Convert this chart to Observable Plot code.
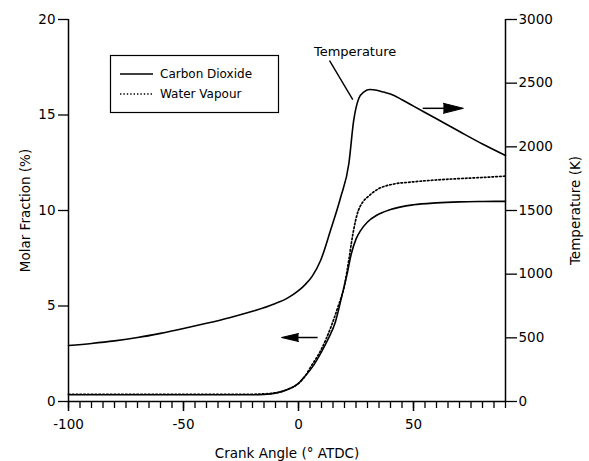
<!DOCTYPE html>
<html>
<head>
<meta charset="utf-8">
<script src="https://cdn.jsdelivr.net/npm/d3@7"></script>
<script src="https://cdn.jsdelivr.net/npm/@observablehq/plot@0.6"></script>
<style>
  html, body { margin: 0; padding: 0; background: #fff; }
  #chart svg { display: block; }
</style>
</head>
<body>
<div id="chart"></div>
<script>
// In-cylinder temperature (K) against crank angle (° ATDC)
const tempAngle = [-100, -90, -80, -70, -60, -50, -40, -30, -20, -10, -5, 0, 3, 6, 9.6, 13.9, 18.3, 21.9, 24, 26.2, 28.5, 31, 34, 37, 40, 45, 50, 60, 70, 80, 90];
const tempK     = [440, 456, 476, 502, 535, 573, 614, 658, 708, 770, 810, 870, 920, 985, 1107, 1343, 1602, 1869, 2207, 2379, 2432, 2450, 2445, 2430, 2415, 2370, 2320, 2220, 2120, 2022, 1932];

// Carbon dioxide molar fraction (%)
const co2Angle = [-100, -80, -60, -40, -20, -15, -10, -5, 0, 3, 6, 10, 13, 16, 19, 21, 23, 25, 27, 30, 34, 40, 50, 60, 70, 80, 90];
const co2Pct   = [0.35, 0.35, 0.35, 0.35, 0.35, 0.37, 0.44, 0.62, 0.95, 1.35, 1.8, 2.6, 3.3, 4.15, 5.6, 6.6, 7.75, 8.5, 8.95, 9.4, 9.75, 10.05, 10.3, 10.4, 10.45, 10.47, 10.48];

// Water vapour molar fraction (%)
const h2oAngle = [-100, -80, -60, -40, -20, -15, -10, -5, 0, 3, 5, 10, 14, 17, 20, 22, 23, 24, 25.5, 28, 30, 35, 40, 50, 60, 70, 80, 90];
const h2oPct   = [0.38, 0.38, 0.38, 0.38, 0.38, 0.4, 0.45, 0.62, 0.95, 1.35, 1.75, 2.75, 3.87, 4.9, 6.1, 7.5, 8.3, 9.0, 9.8, 10.45, 10.7, 11.15, 11.35, 11.5, 11.6, 11.67, 11.73, 11.8];

// Axis ticks
const fractionTicks = [0, 5, 10, 15, 20];
const tempTicks = [0, 500, 1000, 1500, 2000, 2500, 3000];
const angleLabels = [-100, -50, 0, 50];
const angleTicks = [-100, -95, -90, -85, -80, -75, -70, -65, -60, -55, -50, -45, -40, -35, -30, -25, -20, -15, -10, -5,
                    0, 5, 10, 15, 20, 25, 30, 35, 40, 45, 50, 55, 60, 65, 70, 75, 80, 85, 90];

// Right axis: 3000 K spans the same height as 20 %
const K_PER_PCT = 3000 / 20;

const temperature = tempAngle.map((a, i) => ({angle: a, pct: tempK[i] / K_PER_PCT}));
const carbon = co2Angle.map((a, i) => ({angle: a, pct: co2Pct[i]}));
const water = h2oAngle.map((a, i) => ({angle: a, pct: h2oPct[i]}));

const FONT = "DejaVu Sans, Verdana, sans-serif";

const chart = Plot.plot({
  width: 589,
  height: 461,
  marginLeft: 68,
  marginRight: 84,
  marginTop: 19,
  marginBottom: 60,
  style: {fontFamily: FONT, fontSize: "13.5px", color: "black", background: "white", overflow: "visible"},
  x: {domain: [-100, 90]},
  y: {domain: [0, 20]},
  marks: [
    // axis lines
    Plot.ruleX([-100, 90], {stroke: "black", strokeWidth: 1.5}),
    Plot.ruleY([0], {stroke: "black", strokeWidth: 1.5}),

    // left axis: molar fraction
    Plot.axisY(fractionTicks, {
      anchor: "left", tickSize: 10, tickPadding: 3, strokeWidth: 1.3,
      label: "Molar Fraction (%)", labelAnchor: "center", labelOffset: 48, labelArrow: "none"
    }),
    // right axis: temperature
    Plot.axisY(tempTicks.map(t => t / K_PER_PCT), {
      anchor: "right", tickSize: 11, tickPadding: 2, strokeWidth: 1.3,
      tickFormat: d => String(Math.round(d * K_PER_PCT)),
      label: "Temperature (K)", labelAnchor: "center", labelOffset: 74, labelArrow: "none"
    }),
    // bottom axis: minor ticks every 5°, labelled ticks every 50°
    Plot.axisX(angleTicks, {anchor: "bottom", tickSize: 7, strokeWidth: 1.3, tickFormat: () => "", label: null}),
    Plot.axisX(angleLabels, {
      anchor: "bottom", tickSize: 10, tickPadding: 8, strokeWidth: 1.5,
      tickFormat: d => String(d),
      label: "Crank Angle (° ATDC)", labelAnchor: "center", labelOffset: 56, labelArrow: "none"
    }),

    // curves
    Plot.line(temperature, {x: "angle", y: "pct", curve: "monotone-x", stroke: "black", strokeWidth: 1.6}),
    Plot.line(carbon, {x: "angle", y: "pct", curve: "monotone-x", stroke: "black", strokeWidth: 1.6}),
    Plot.line(water, {x: "angle", y: "pct", curve: "monotone-x", stroke: "black", strokeWidth: 1.7, strokeDasharray: "1.6,2.2"}),

    // "Temperature" callout
    Plot.text(["Temperature"], {x: 24.6, y: 18.3, text: d => d, fontSize: 13, fill: "black"}),
    Plot.link([0], {x1: 13.5, y1: 17.85, x2: 23.6, y2: 15.8, stroke: "black", strokeWidth: 1.4}),

    // arrows pointing at each curve's axis
    Plot.link([0], {x1: 54, y1: 15.35, x2: 64, y2: 15.35, stroke: "black", strokeWidth: 1.5}),
    Plot.vector([0], {x: 63, y: 15.35, rotate: 90, length: 20, r: 5, anchor: "start", shape: "spike", fill: "black", stroke: "black", strokeWidth: 1}),
    Plot.link([0], {x1: 8.3, y1: 3.35, x2: -0.5, y2: 3.35, stroke: "black", strokeWidth: 1.5}),
    Plot.vector([0], {x: 0, y: 3.35, rotate: -90, length: 17, r: 4, anchor: "start", shape: "spike", fill: "black", stroke: "black", strokeWidth: 1})
  ]
});

// Legend box in the upper-left of the frame
const svg = d3.select(chart);
const legend = svg.append("g")
  .attr("font-family", FONT)
  .attr("font-size", 12)
  .attr("text-anchor", "start")
  .attr("fill", "black");
legend.append("rect")
  .attr("x", 110.5).attr("y", 55.5).attr("width", 168).attr("height", 57)
  .attr("fill", "white").attr("stroke", "black").attr("stroke-width", 1.2);
const entries = [
  {name: "Carbon Dioxide", dash: null},
  {name: "Water Vapour", dash: "1.4,2"}
];
entries.forEach((e, i) => {
  const y = 74 + i * 20;
  legend.append("line")
    .attr("x1", 120).attr("x2", 153).attr("y1", y).attr("y2", y)
    .attr("stroke", "black").attr("stroke-width", 1.3)
    .attr("stroke-dasharray", e.dash);
  legend.append("text")
    .attr("x", 160).attr("y", y).attr("dy", "0.35em")
    .text(e.name);
});

document.getElementById("chart").append(chart);
</script>
</body>
</html>
